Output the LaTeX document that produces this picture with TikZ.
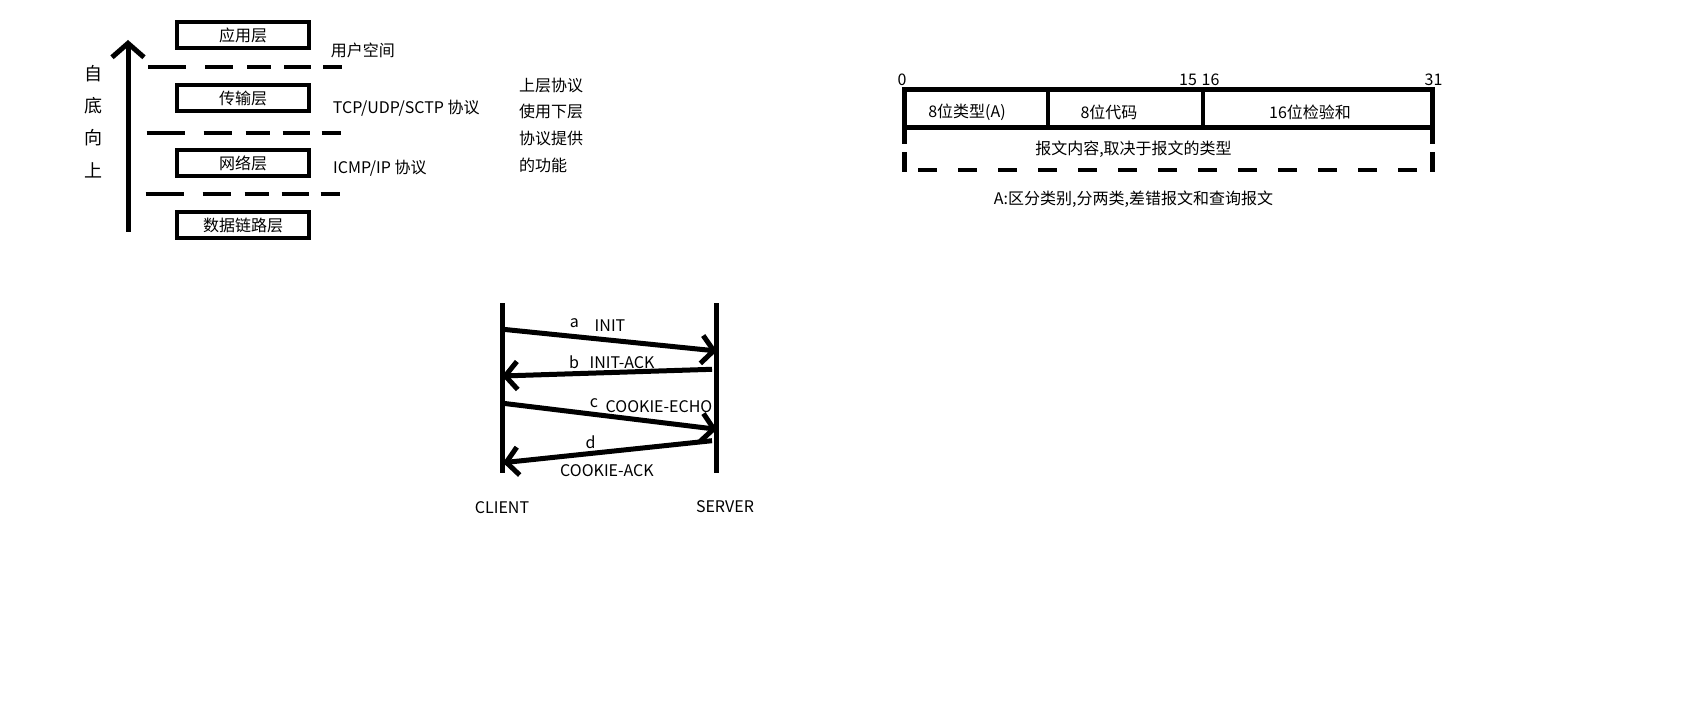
\documentclass[tikz,border=0pt]{standalone}
\usepackage{fontspec}
\setmainfont{Noto Sans CJK SC}
\usetikzlibrary{arrows.meta}

\begin{document}
\begin{tikzpicture}[x=1pt, y=-1pt,
    txt/.style={font=\fontsize{16}{19}\selectfont, inner sep=0pt},
    layer/.style={draw, line width=4.3pt, minimum width=132pt, minimum height=26pt, txt},
    layersep/.style={line width=4.3pt, dash pattern=on 38pt off 19pt on 28pt off 14pt on 24pt off 13pt on 27pt off 12pt on 19pt off 60pt},
    field/.style={line width=4.5pt},
    lifeline/.style={line width=5pt},
    msg/.style={line width=5pt, -{Straight Barb[length=12pt, width=28pt]}},
    bigarrow/.style={line width=5pt, -{Straight Barb[length=14pt, width=32pt]}}]
    \useasboundingbox[fill=white] (0,0) rectangle (1686,727);

    % Protocol layers, bottom to top
    \foreach \name/\y/\txt in {app/35/应用层, trans/98/传输层, net/163/网络层, link/225/数据链路层}{
        \node[layer] (\name) at (243,\y) {\txt};
    }

    % Dashed separators between the layers
    \foreach \n/\xa/\xb/\y in {s1/148/344/67.3, s2/146.7/342.7/132.7, s3/145.7/341.7/194.3}{
        \coordinate (\n a) at (\xa,\y);
        \coordinate (\n b) at (\xb,\y);
        \draw[layersep] (\n a) -- (\n b);
    }

    % Upward arrow and its label
    \coordinate (up0) at (128,232);
    \coordinate (up1) at (128,40);
    \draw[bigarrow] (up0) -- (up1);
    \node[txt, font=\fontsize{18}{32.3}\selectfont, align=center] (dir) at (93,121.5) {自\\底\\向\\上};

    % Protocols beside the layers
    \node[txt, anchor=west] (user) at (330.7,50) {用户空间};
    \node[txt, anchor=west] (tcp) at (332.7,108) {TCP/UDP/SCTP 协议};
    \node[txt, anchor=west] (icmp) at (333,168) {ICMP/IP 协议};
    \node[txt, font=\fontsize{16}{26.7}\selectfont, align=left, anchor=west] (note) at (519,125)
        {上层协议\\使用下层\\协议提供\\的功能};

    % ICMP header fields
    \foreach \xa/\xb in {904.5/1048, 1048/1203, 1203/1432.5}{
        \draw[field] (\xa,89.5) rectangle (\xb,127.5);
    }
    \node[txt] (type) at (967,112) {8位类型(A)};
    \node[txt] (code) at (1109,112) {8位代码};
    \node[txt] (sum) at (1310,112) {16位检验和};

    % Bit numbers
    \node[txt] (b0) at (902,80) {0};
    \node[txt] (b15) at (1188,80) {15};
    \node[txt] (b16) at (1210.5,80) {16};
    \node[txt] (b31) at (1433.5,80) {31};

    % Message body, dashed at the bottom
    \foreach \x in {904.5, 1432.5}{
        \draw[field] (\x,127.5) -- (\x,144);
        \draw[field] (\x,152.5) -- (\x,172.25);
    }
    \draw[field, dash pattern=on 18.5pt off 21.5pt] (918,170) -- (1417,170);
    \node[txt] (body) at (1133.5,149) {报文内容,取决于报文的类型};
    \node[txt] (kind) at (1133.5,199) {A:区分类别,分两类,差错报文和查询报文};

    % Four-way handshake
    \coordinate (c0) at (502.5,303);
    \coordinate (c1) at (502.5,473);
    \coordinate (s0) at (716,303);
    \coordinate (s1) at (716,473);
    \draw[lifeline] (c0) -- (c1);
    \draw[lifeline] (s0) -- (s1);
    \foreach \n/\xa/\ya/\xb/\yb in {a/503/329.3/717/351, b/712/369.3/502/376, c/503/403.3/717/429.3, d/712/440.7/503/462.7}{
        \coordinate (\n0) at (\xa,\ya);
        \coordinate (\n1) at (\xb,\yb);
        \draw[msg] (\n0) -- (\n1);
    }
    \node[txt] (la) at (574.3,323.3) {a};
    \node[txt] (init) at (610,326) {INIT};
    \node[txt] (lb) at (574,362.7) {b};
    \node[txt] (initack) at (622,363) {INIT-ACK};
    \node[txt] (lc) at (594,402.7) {c};
    \node[txt] (echo) at (659,406.7) {COOKIE-ECHO};
    \node[txt] (ld) at (590.7,442.7) {d};
    \node[txt] (ack) at (607,471) {COOKIE-ACK};
    \node[txt] (client) at (502,508) {CLIENT};
    \node[txt] (server) at (725,506.7) {SERVER};
\end{tikzpicture}
\end{document}
